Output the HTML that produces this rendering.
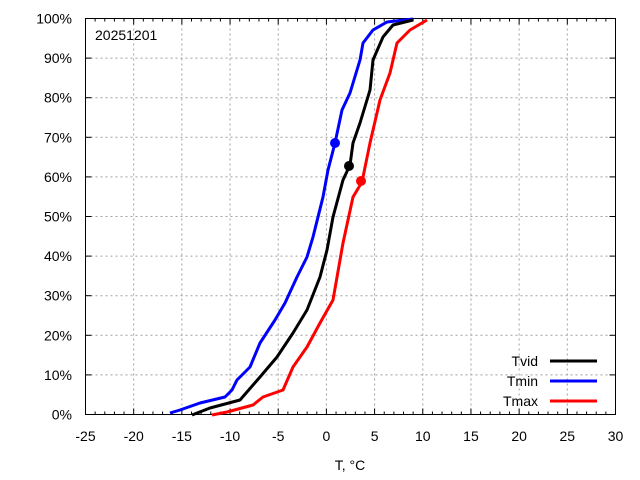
<!DOCTYPE html>
<html><head><meta charset="utf-8"><style>body{margin:0;background:#fff}svg{display:block}</style></head><body>
<svg width="640" height="480" xmlns="http://www.w3.org/2000/svg" font-family="Liberation Sans, sans-serif" font-size="14">
<rect width="640" height="480" fill="#fff"/>
<g id="grid" stroke="#a0a0a0" stroke-dasharray="2,3" stroke-width="1"></g>
<g id="ticks" stroke="#000" stroke-width="1"></g>
<g id="labels" fill="#000"></g>
<rect x="85.5" y="18.5" width="530" height="396" fill="none" stroke="#000"/>
<text x="95" y="40">20251201</text>
<g fill="none" stroke-width="3" stroke-linejoin="round">
<polyline stroke="#0000ff" points="170,413 180,410 200,403 225,397 232,390 237,380 250,367 260,343 275,320 285,303 297,277 307,257 313,237 323,197 328,170 335,143 342,110 350,93 360,60 363,43 373,30 387,22 413,19"/>
<polyline stroke="#000" points="192,415 210,408 240,400 260,377 277,357 293,333 307,310 320,277 327,250 333,217 343,180 350,165 353,143 360,123 370,90 373,60 383,37 393,25 413,20"/>
<polyline stroke="#ff0000" points="212,415 227,412 253,405 263,397 283,390 293,367 307,347 320,323 333,300 343,243 353,197 362,182 370,143 380,100 390,73 397,43 410,30 427,20"/>
</g>
<circle cx="335" cy="143" r="5" fill="#0000ff"/>
<circle cx="349" cy="166" r="5" fill="#000"/>
<circle cx="361" cy="181" r="5" fill="#ff0000"/>
<g text-anchor="end">
<text x="538" y="366">Tvid</text>
<text x="538" y="386">Tmin</text>
<text x="538" y="406">Tmax</text>
</g>
<g stroke-width="3">
<line x1="550" y1="361" x2="597" y2="361" stroke="#000"/>
<line x1="550" y1="381" x2="597" y2="381" stroke="#0000ff"/>
<line x1="550" y1="401" x2="597" y2="401" stroke="#ff0000"/>
</g>
<text x="350" y="470" text-anchor="middle">T, °C</text>
<script>
var ns="http://www.w3.org/2000/svg";
function el(p,t,a,txt){var e=document.createElementNS(ns,t);for(var k in a)e.setAttribute(k,a[k]);if(txt!==undefined)e.textContent=txt;document.getElementById(p).appendChild(e);}
var x0=85.5,x1=615.5,y0=414.5,y1=18.5;
function X(v){return x0+(v+25)*(x1-x0)/55;}
for(var v=-25;v<=30;v++){var x=X(v);var maj=v%5==0;
 el("ticks","line",{x1:x,y1:y0,x2:x,y2:y0-(maj?6:3)});
 el("ticks","line",{x1:x,y1:y1,x2:x,y2:y1+(maj?6:3)});
 if(maj){ if(v>-25&&v<30) el("grid","line",{x1:x,y1:y1,x2:x,y2:y0});
  el("labels","text",{x:x,y:441,"text-anchor":"middle"},String(v));}}
for(var p=0;p<=100;p+=10){var y=y0-(y0-y1)*p/100;
 el("ticks","line",{x1:x0,y1:y,x2:x0+6,y2:y});
 el("ticks","line",{x1:x1,y1:y,x2:x1-6,y2:y});
 if(p>0&&p<100) el("grid","line",{x1:x0,y1:y,x2:x1,y2:y});
 el("labels","text",{x:72,y:y+5,"text-anchor":"end"},p+"%");}
</script>
</svg>
</body></html>
